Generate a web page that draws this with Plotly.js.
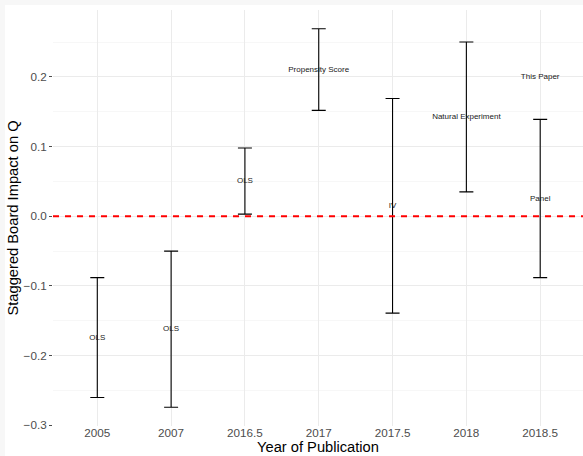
<!DOCTYPE html>
<html>
<head>
<meta charset="utf-8">
<script src="https://cdn.plot.ly/plotly-3.0.1.min.js"></script>
<style>
  html, body { margin: 0; padding: 0; background: #f7f7f7; width: 583px; height: 456px; overflow: hidden; }
  #chart { position: absolute; left: 5px; top: 5px; width: 578px; height: 451px; background: #ffffff; }
</style>
</head>
<body>
<div id="chart"></div>
<script>
// Data
const years = ['2005', '2007', '2016.5', '2017', '2017.5', '2018', '2018.5'];
const methods = ['OLS', 'OLS', 'OLS', 'Propensity Score', 'IV', 'Natural Experiment', 'Panel'];
const estimate = [-0.174, -0.162, 0.051, 0.210, 0.015, 0.142, 0.025];
const lower = [-0.260, -0.274, 0.003, 0.152, -0.139, 0.035, -0.088];
const upper = [-0.088, -0.050, 0.098, 0.269, 0.169, 0.250, 0.139];
const noteYear = ['2018.5'];
const noteY = [0.20];
const noteText = ['This Paper'];

const plus = upper.map((u, i) => u - estimate[i]);
const minus = estimate.map((e, i) => e - lower[i]);

const FONT = 'Liberation Sans, Arial, Helvetica, sans-serif';

const traces = [
  {
    type: 'scatter',
    mode: 'text',
    x: years,
    y: estimate,
    text: methods,
    textposition: 'middle center',
    textfont: { family: FONT, size: 8, color: '#1a1a1a' },
    error_y: {
      type: 'data', symmetric: false,
      array: plus, arrayminus: minus,
      color: '#000000', thickness: 1.1, width: 7
    },
    hoverinfo: 'skip',
    showlegend: false
  },
  {
    type: 'scatter',
    mode: 'text',
    x: noteYear,
    y: noteY,
    text: noteText,
    textposition: 'middle center',
    textfont: { family: FONT, size: 8, color: '#1a1a1a' },
    hoverinfo: 'skip',
    showlegend: false
  }
];

const layout = {
  width: 578,
  height: 451,
  margin: { l: 48, r: 0, t: 5, b: 30, pad: 0 },
  paper_bgcolor: '#ffffff',
  plot_bgcolor: '#ffffff',
  font: { family: FONT, color: '#000000' },
  showlegend: false,
  xaxis: {
    type: 'category',
    categoryorder: 'array',
    categoryarray: years,
    range: [-0.6, 6.58],
    showgrid: true,
    gridcolor: '#ebebeb',
    gridwidth: 1.07,
    zeroline: false,
    showline: false,
    ticks: '',
    ticklabelstandoff: -2,
    tickfont: { family: FONT, size: 11.7, color: '#4d4d4d' },
    title: { text: 'Year of Publication', font: { family: FONT, size: 14.7, color: '#000000' }, standoff: 0 },
    fixedrange: true
  },
  yaxis: {
    range: [-0.301, 0.296],
    tickvals: [-0.3, -0.2, -0.1, 0.0, 0.1, 0.2],
    ticktext: ['\u22120.3', '\u22120.2', '\u22120.1', '0.0', '0.1', '0.2'],
    showgrid: true,
    gridcolor: '#ebebeb',
    gridwidth: 1.07,
    minor: { tickvals: [-0.25, -0.15, -0.05, 0.05, 0.15, 0.25], showgrid: true, gridcolor: '#f2f2f2', gridwidth: 0.6, ticks: '' },
    zeroline: false,
    showline: false,
    ticks: 'outside',
    ticklen: 3,
    tickwidth: 1,
    tickcolor: '#4d4d4d',
    tickfont: { family: FONT, size: 11.7, color: '#4d4d4d' },
    title: { text: 'Staggered Board Impact on Q', font: { family: FONT, size: 14.7, color: '#000000' }, standoff: 2 },
    fixedrange: true
  },
  shapes: [
    {
      type: 'line', xref: 'paper', x0: 0, x1: 1, yref: 'y', y0: 0, y1: 0,
      line: { color: '#ff0000', width: 2, dash: '6px,6px' },
      layer: 'above'
    }
  ]
};

Plotly.newPlot('chart', traces, layout, { staticPlot: true, displayModeBar: false });
</script>
</body>
</html>
